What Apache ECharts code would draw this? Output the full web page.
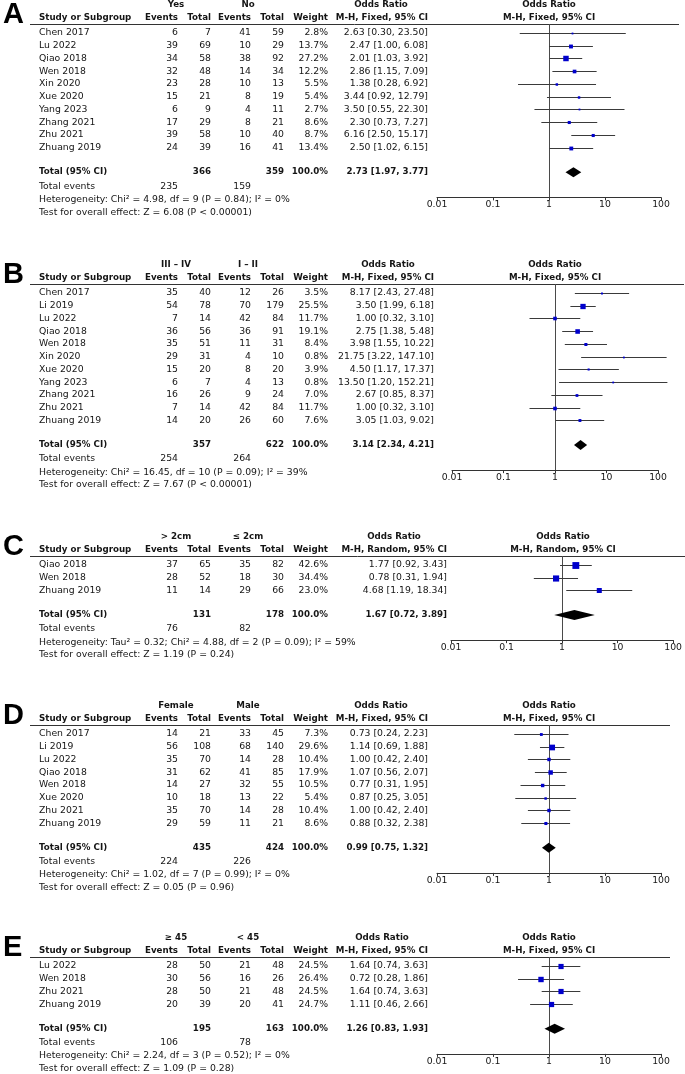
<!DOCTYPE html>
<html>
<head>
<meta charset="utf-8">
<script src="https://cdn.jsdelivr.net/npm/echarts@6/dist/echarts.min.js"></script>
<style>
html, body { margin: 0; padding: 0; background: #fff; }
#chart { width: 685px; height: 1074px; }
</style>
</head>
<body>
<div id="chart"></div>
<script>
const tickLabels = ['0.01', '0.1', '1', '10', '100'];

// A: Yes / No
const groupsA = ['Yes', 'No'];
const studiesA = ['Chen 2017', 'Lu 2022', 'Qiao 2018', 'Wen 2018', 'Xin 2020', 'Xue 2020', 'Yang 2023', 'Zhang 2021', 'Zhu 2021', 'Zhuang 2019'];
const countsA = [[6, 7, 41, 59], [39, 69, 10, 29], [34, 58, 38, 92], [32, 48, 14, 34], [23, 28, 10, 13], [15, 21, 8, 19], [6, 9, 4, 11], [17, 29, 8, 21], [39, 58, 10, 40], [24, 39, 16, 41]];
const weightA = [2.8, 13.7, 27.2, 12.2, 5.5, 5.4, 2.7, 8.6, 8.7, 13.4];
const orA = [[2.63, 0.30, 23.50], [2.47, 1.00, 6.08], [2.01, 1.03, 3.92], [2.86, 1.15, 7.09], [1.38, 0.28, 6.92], [3.44, 0.92, 12.79], [3.50, 0.55, 22.30], [2.30, 0.73, 7.27], [6.16, 2.50, 15.17], [2.50, 1.02, 6.15]];
const totalA = [366, 359, 2.73, 1.97, 3.77];
const eventsA = [235, 159];
const hetA = 'Heterogeneity: Chi² = 4.98, df = 9 (P = 0.84); I² = 0%';
const testA = 'Test for overall effect: Z = 6.08 (P < 0.00001)';

// B: III - IV / I - II
const groupsB = ['III – IV', 'I – II'];
const studiesB = ['Chen 2017', 'Li 2019', 'Lu 2022', 'Qiao 2018', 'Wen 2018', 'Xin 2020', 'Xue 2020', 'Yang 2023', 'Zhang 2021', 'Zhu 2021', 'Zhuang 2019'];
const countsB = [[35, 40, 12, 26], [54, 78, 70, 179], [7, 14, 42, 84], [36, 56, 36, 91], [35, 51, 11, 31], [29, 31, 4, 10], [15, 20, 8, 20], [6, 7, 4, 13], [16, 26, 9, 24], [7, 14, 42, 84], [14, 20, 26, 60]];
const weightB = [3.5, 25.5, 11.7, 19.1, 8.4, 0.8, 3.9, 0.8, 7.0, 11.7, 7.6];
const orB = [[8.17, 2.43, 27.48], [3.50, 1.99, 6.18], [1.00, 0.32, 3.10], [2.75, 1.38, 5.48], [3.98, 1.55, 10.22], [21.75, 3.22, 147.10], [4.50, 1.17, 17.37], [13.50, 1.20, 152.21], [2.67, 0.85, 8.37], [1.00, 0.32, 3.10], [3.05, 1.03, 9.02]];
const totalB = [357, 622, 3.14, 2.34, 4.21];
const eventsB = [254, 264];
const hetB = 'Heterogeneity: Chi² = 16.45, df = 10 (P = 0.09); I² = 39%';
const testB = 'Test for overall effect: Z = 7.67 (P < 0.00001)';

// C: > 2cm / <= 2cm
const groupsC = ['> 2cm', '≤ 2cm'];
const studiesC = ['Qiao 2018', 'Wen 2018', 'Zhuang 2019'];
const countsC = [[37, 65, 35, 82], [28, 52, 18, 30], [11, 14, 29, 66]];
const weightC = [42.6, 34.4, 23.0];
const orC = [[1.77, 0.92, 3.43], [0.78, 0.31, 1.94], [4.68, 1.19, 18.34]];
const totalC = [131, 178, 1.67, 0.72, 3.89];
const eventsC = [76, 82];
const hetC = 'Heterogeneity: Tau² = 0.32; Chi² = 4.88, df = 2 (P = 0.09); I² = 59%';
const testC = 'Test for overall effect: Z = 1.19 (P = 0.24)';

// D: Female / Male
const groupsD = ['Female', 'Male'];
const studiesD = ['Chen 2017', 'Li 2019', 'Lu 2022', 'Qiao 2018', 'Wen 2018', 'Xue 2020', 'Zhu 2021', 'Zhuang 2019'];
const countsD = [[14, 21, 33, 45], [56, 108, 68, 140], [35, 70, 14, 28], [31, 62, 41, 85], [14, 27, 32, 55], [10, 18, 13, 22], [35, 70, 14, 28], [29, 59, 11, 21]];
const weightD = [7.3, 29.6, 10.4, 17.9, 10.5, 5.4, 10.4, 8.6];
const orD = [[0.73, 0.24, 2.23], [1.14, 0.69, 1.88], [1.00, 0.42, 2.40], [1.07, 0.56, 2.07], [0.77, 0.31, 1.95], [0.87, 0.25, 3.05], [1.00, 0.42, 2.40], [0.88, 0.32, 2.38]];
const totalD = [435, 424, 0.99, 0.75, 1.32];
const eventsD = [224, 226];
const hetD = 'Heterogeneity: Chi² = 1.02, df = 7 (P = 0.99); I² = 0%';
const testD = 'Test for overall effect: Z = 0.05 (P = 0.96)';

// E: >= 45 / < 45
const groupsE = ['≥ 45', '< 45'];
const studiesE = ['Lu 2022', 'Wen 2018', 'Zhu 2021', 'Zhuang 2019'];
const countsE = [[28, 50, 21, 48], [30, 56, 16, 26], [28, 50, 21, 48], [20, 39, 20, 41]];
const weightE = [24.5, 26.4, 24.5, 24.7];
const orE = [[1.64, 0.74, 3.63], [0.72, 0.28, 1.86], [1.64, 0.74, 3.63], [1.11, 0.46, 2.66]];
const totalE = [195, 163, 1.26, 0.83, 1.93];
const eventsE = [106, 78];
const hetE = 'Heterogeneity: Chi² = 2.24, df = 3 (P = 0.52); I² = 0%';
const testE = 'Test for overall effect: Z = 1.09 (P = 0.28)';

const FONT = '"DejaVu Sans", sans-serif';
const FS = 9.3;
const FSB = 8.7;   // bold glyphs of DejaVu are wide, shrink them a bit
const ROW = 12.75;
const INK = '#151515';

// layout of each panel (header line y, plot placement)
const panels = [
  { letter: 'A', lineY: 24, plotLeft: 437, decade: 56, orRight: 428, orCenter: 381, lineEnd: 679, method: 'M-H, Fixed, 95% CI',
    groups: groupsA, studies: studiesA, counts: countsA, weight: weightA, or: orA, total: totalA, events: eventsA, het: hetA, test: testA },
  { letter: 'B', lineY: 284, plotLeft: 452, decade: 51.5, orRight: 434, orCenter: 388, lineEnd: 684, method: 'M-H, Fixed, 95% CI',
    groups: groupsB, studies: studiesB, counts: countsB, weight: weightB, or: orB, total: totalB, events: eventsB, het: hetB, test: testB },
  { letter: 'C', lineY: 556, plotLeft: 451, decade: 56, orRight: 447, orCenter: 394, lineEnd: 685, method: 'M-H, Random, 95% CI',
    groups: groupsC, studies: studiesC, counts: countsC, weight: weightC, or: orC, total: totalC, events: eventsC, het: hetC, test: testC },
  { letter: 'D', lineY: 725, plotLeft: 437, decade: 56, orRight: 428, orCenter: 381, lineEnd: 670, method: 'M-H, Fixed, 95% CI',
    groups: groupsD, studies: studiesD, counts: countsD, weight: weightD, or: orD, total: totalD, events: eventsD, het: hetD, test: testD },
  { letter: 'E', lineY: 957, plotLeft: 437, decade: 56, orRight: 428, orCenter: 382, lineEnd: 670, method: 'M-H, Fixed, 95% CI',
    groups: groupsE, studies: studiesE, counts: countsE, weight: weightE, or: orE, total: totalE, events: eventsE, het: hetE, test: testE }
];

const colX = [178, 211, 251, 284];
const weightX = 328;
const nameX = 39;

function fmtOR(v) {
  return v[0].toFixed(2) + ' [' + v[1].toFixed(2) + ', ' + v[2].toFixed(2) + ']';
}

const graphics = [];
function txt(x, y, s, align, bold, extra) {
  graphics.push({
    type: 'text', x: x, y: y, silent: true,
    style: Object.assign({
      text: s, fontSize: bold ? FSB : FS, fontFamily: FONT, fontWeight: bold ? 'bold' : 'normal', fill: INK,
      align: align, textAlign: align, verticalAlign: 'middle', textVerticalAlign: 'middle'
    }, extra || {})
  });
}

panels.forEach(function (p) {
  const n = p.studies.length;
  const h1 = p.lineY - 19, h2 = p.lineY - 6.5;
  const plotMid = p.plotLeft + 2 * p.decade;
  txt(3, p.lineY - 9, p.letter, 'left', true, { fontSize: 29, fontFamily: '"Liberation Sans", Arial, sans-serif', fill: '#000' });
  txt(176, h1, p.groups[0], 'center', true);
  txt(248, h1, p.groups[1], 'center', true);
  txt(p.orCenter, h1, 'Odds Ratio', 'center', true);
  txt(plotMid, h1, 'Odds Ratio', 'center', true);
  txt(nameX, h2, 'Study or Subgroup', 'left', true);
  ['Events', 'Total', 'Events', 'Total'].forEach(function (s, k) { txt(colX[k], h2, s, 'right', true); });
  txt(weightX, h2, 'Weight', 'right', true);
  txt(p.orRight, h2, p.method, 'right', true);
  txt(plotMid, h2, p.method, 'center', true);
  graphics.push({
    type: 'line', silent: true,
    shape: { x1: 30, y1: p.lineY + 0.5, x2: p.lineEnd, y2: p.lineY + 0.5 },
    style: { stroke: '#333', lineWidth: 1 }
  });
  p.studies.forEach(function (s, i) {
    const y = p.lineY + (i + 0.7) * ROW;
    txt(nameX, y, s, 'left', false);
    p.counts[i].forEach(function (c, k) { txt(colX[k], y, String(c), 'right', false); });
    txt(weightX, y, p.weight[i].toFixed(1) + '%', 'right', false);
    txt(p.orRight, y, fmtOR(p.or[i]), 'right', false);
  });
  const ty = p.lineY + (n + 1.62) * ROW;
  txt(nameX, ty, 'Total (95% CI)', 'left', true);
  txt(colX[1], ty, String(p.total[0]), 'right', true);
  txt(colX[3], ty, String(p.total[1]), 'right', true);
  txt(weightX, ty, '100.0%', 'right', true);
  txt(p.orRight, ty, fmtOR(p.total.slice(2)), 'right', true);
  txt(nameX, ty + 14, 'Total events', 'left', false);
  txt(colX[0], ty + 14, String(p.events[0]), 'right', false);
  txt(colX[2], ty + 14, String(p.events[1]), 'right', false);
  txt(nameX, ty + 27.3, p.het, 'left', false);
  txt(nameX, ty + 40, p.test, 'left', false);
});

function renderStudy(params, api) {
  const y = api.value(3);
  const lo = api.coord([api.value(1), y]);
  const hi = api.coord([api.value(2), y]);
  const mid = api.coord([api.value(0), y]);
  const s = Math.max(1.8, 1.05 * Math.sqrt(api.value(4)));
  const ly = Math.round(lo[1]) + 0.5;
  return {
    type: 'group',
    children: [
      { type: 'line', shape: { x1: lo[0], y1: ly, x2: hi[0], y2: ly }, style: { stroke: '#3a3a3a', lineWidth: 1 } },
      { type: 'rect', shape: { x: mid[0] - s / 2, y: ly - s / 2, width: s, height: s }, style: { fill: '#0000cc' } }
    ]
  };
}

function renderDiamond(params, api) {
  const y = api.value(3);
  const lo = api.coord([api.value(1), y]);
  const hi = api.coord([api.value(2), y]);
  const mid = api.coord([api.value(0), y]);
  return {
    type: 'polygon',
    shape: { points: [[lo[0], lo[1]], [mid[0], mid[1] - 5], [hi[0], hi[1]], [mid[0], mid[1] + 5]] },
    style: { fill: '#000' }
  };
}

const grids = [], xAxes = [], yAxes = [], series = [];
panels.forEach(function (p, k) {
  const n = p.studies.length;
  grids.push({ left: p.plotLeft, top: p.lineY, width: 4 * p.decade, height: (n + 3.6) * ROW });
  xAxes.push({
    gridIndex: k, type: 'log', logBase: 10, min: 0.01, max: 100,
    axisLine: { show: true, onZero: false, lineStyle: { color: '#333', width: 1 } },
    axisTick: { show: true, length: 3, lineStyle: { color: '#333' } },
    minorTick: { show: false },
    splitLine: { show: false },
    axisLabel: {
      margin: 3, color: INK, fontSize: FS, fontFamily: FONT,
      formatter: function (v) { return tickLabels[Math.round(Math.log10(v)) + 2]; }
    }
  });
  yAxes.push({ gridIndex: k, type: 'value', inverse: true, min: 0, max: n + 3.6, show: false });
  series.push({
    type: 'custom', xAxisIndex: k, yAxisIndex: k, clip: false, z: 3,
    renderItem: renderStudy,
    encode: { x: [0, 1, 2], y: 3 },
    data: p.or.map(function (v, i) { return [v[0], v[1], v[2], i + 0.7, p.weight[i]]; })
  });
  series.push({
    type: 'custom', xAxisIndex: k, yAxisIndex: k, clip: false, z: 3,
    renderItem: renderDiamond,
    encode: { x: [0, 1, 2], y: 3 },
    data: [[p.total[2], p.total[3], p.total[4], n + 1.62]],
    markLine: {
      silent: true, symbol: ['none', 'none'], z: 2,
      label: { show: false },
      lineStyle: { color: '#4a4a4a', type: 'solid', width: 1 },
      data: [{ xAxis: 1 }]
    }
  });
});

const chart = echarts.init(document.getElementById('chart'), null, { renderer: 'canvas' });
chart.setOption({
  animation: false,
  backgroundColor: '#fff',
  grid: grids,
  xAxis: xAxes,
  yAxis: yAxes,
  series: series,
  graphic: graphics
});
</script>
</body>
</html>
